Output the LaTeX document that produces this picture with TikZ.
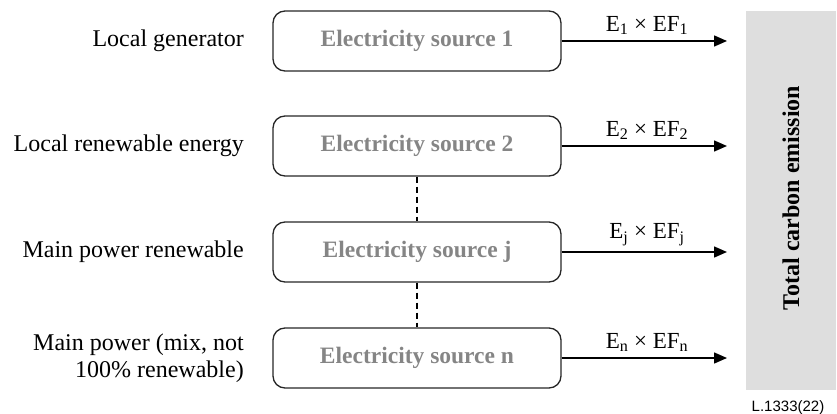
\documentclass[tikz,border=0pt]{standalone}
\usepackage{fontspec}
\setmainfont{Liberation Serif}
\newfontfamily\labelsans{Liberation Sans}
\usetikzlibrary{arrows.meta}
\begin{document}
\begin{tikzpicture}[x=1pt,y=-1pt,
  srcbox/.style={draw=black!85,line width=1.3pt,rounded corners=12pt,
    minimum width=288pt,minimum height=60pt,inner sep=0pt,
    font=\fontsize{23.5}{26}\selectfont\bfseries,text=black!48},
  sidelabel/.style={anchor=east,align=right,inner sep=0pt,
    font=\fontsize{24}{27}\selectfont},
  flow/.style={line width=1.5pt,-{Triangle[length=13pt,width=11pt]}},
  flowlabel/.style={anchor=south,inner sep=0pt,font=\fontsize{23}{26}\selectfont},
  link/.style={line width=1.3pt,dash pattern=on 6pt off 4pt}]
\useasboundingbox (0,0) rectangle (837,414);

% collector bar on the right
\node[fill=black!13,minimum width=90pt,minimum height=379pt,inner sep=0pt,anchor=north west]
  (total) at (746,11) {};
\node[rotate=90,font=\fontsize{24}{27}\selectfont\bfseries] (totaltxt) at (791,198)
  {Total carbon emission};

% electricity sources
\node[srcbox] (s1) at (417,41)  {Electricity source 1};
\node[srcbox] (s2) at (417,146) {Electricity source 2};
\node[srcbox] (sj) at (417,252) {Electricity source j};
\node[srcbox] (sn) at (417,358) {Electricity source n};

% source descriptions
\node[sidelabel] (l1) at (244,41)  {Local generator};
\node[sidelabel] (l2) at (244,146) {Local renewable energy};
\node[sidelabel] (lj) at (244,252) {Main power renewable};
\node[sidelabel] (ln) at (244,358) {Main power (mix, not\\100\% renewable)};

% arrow end points at the collector bar
\coordinate (e1) at (727,41);
\coordinate (e2) at (727,146);
\coordinate (ej) at (727,252);
\coordinate (en) at (727,358);

\draw[flow] (s1.east) -- (e1);
\draw[flow] (s2.east) -- (e2);
\draw[flow] (sj.east) -- (ej);
\draw[flow] (sn.east) -- (en);

\node[flowlabel] (f1) at (647,35)  {E\textsubscript{1} × EF\textsubscript{1}};
\node[flowlabel] (f2) at (647,140) {E\textsubscript{2} × EF\textsubscript{2}};
\node[flowlabel] (fj) at (647,246) {E\textsubscript{j} × EF\textsubscript{j}};
\node[flowlabel] (fn) at (647,352) {E\textsubscript{n} × EF\textsubscript{n}};

% dashed links between sources
\draw[link] (s2.south) -- (sj.north);
\draw[link] (sj.south) -- (sn.north);

\node[font=\labelsans\fontsize{15}{17}\selectfont,inner sep=0pt] (ref) at (788,408) {L.1333(22)};
\end{tikzpicture}
\end{document}
